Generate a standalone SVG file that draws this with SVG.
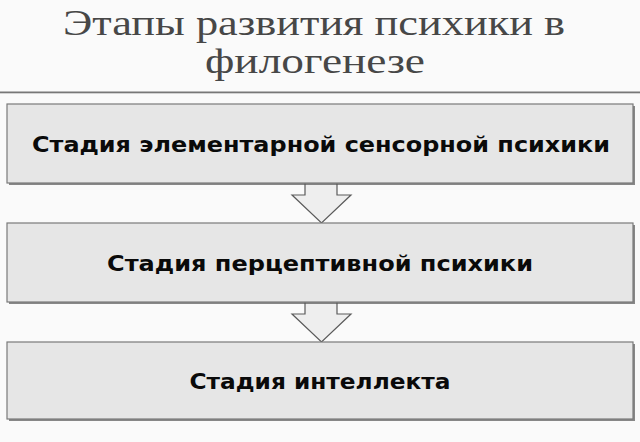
<svg xmlns="http://www.w3.org/2000/svg" width="640" height="442" viewBox="0 0 640 442">
<defs>
<style>
.title{font-family:"Liberation Serif","DejaVu Serif",serif;font-size:36px;fill:#474747;text-anchor:middle}
.box{fill:#e6e6e6;stroke:#7a7a7a;stroke-width:1.2}
.shadow{fill:#555;opacity:0.7}
.lbl{font-family:"DejaVu Sans","Open Sans",sans-serif;font-weight:bold;font-size:21px;fill:#0a0a0a;text-anchor:middle}
.arrow{fill:#eeeeee;stroke:#5a5a5a;stroke-width:1.2;stroke-linejoin:miter}
</style>
</defs>
<rect x="0" y="0" width="640" height="442" fill="#fafafa"/>
<g id="title">
<text class="title" x="314" y="35" textLength="502" lengthAdjust="spacingAndGlyphs">Этапы развития психики в</text>
<text class="title" x="315" y="73" textLength="220" lengthAdjust="spacingAndGlyphs">филогенезе</text>
<rect x="0" y="91.5" width="640" height="1.8" fill="#777"/>
</g>
<g id="connectors">
<path class="arrow" d="M305,183.5 V195 H292 L321.5,223 L351,195 H337 V183.5"/>
<path class="arrow" d="M305,302.5 V314 H292 L321.5,342 L351,314 H337 V302.5"/>
</g>
<g id="node1">
<rect class="shadow" x="9" y="106" width="626" height="79"/>
<rect class="box" x="7" y="104" width="626" height="79"/>
<text class="lbl" x="321" y="152" textLength="578" lengthAdjust="spacingAndGlyphs">Стадия элементарной сенсорной психики</text>
</g>
<g id="node2">
<rect class="shadow" x="9" y="225" width="626" height="79"/>
<rect class="box" x="7" y="223" width="626" height="79"/>
<text class="lbl" x="320" y="271" textLength="426" lengthAdjust="spacingAndGlyphs">Стадия перцептивной психики</text>
</g>
<g id="node3">
<rect class="shadow" x="9" y="344" width="626" height="77"/>
<rect class="box" x="7" y="342" width="626" height="77"/>
<text class="lbl" x="320" y="389" textLength="261" lengthAdjust="spacingAndGlyphs">Стадия интеллекта</text>
</g>
</svg>
